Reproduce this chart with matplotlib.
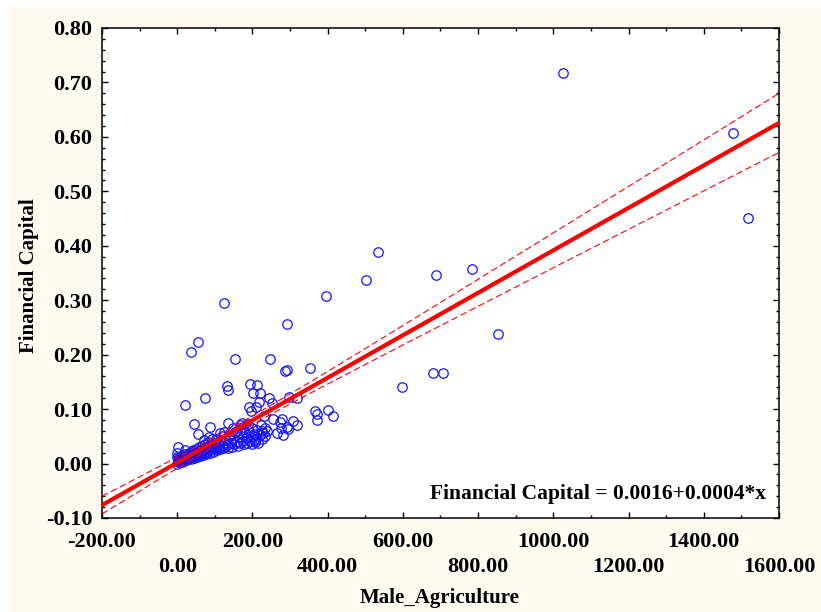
import matplotlib.pyplot as plt
import numpy as np
from matplotlib.patches import Rectangle
from matplotlib.ticker import MultipleLocator

# points (Male_Agriculture, Financial Capital)
male_agriculture = [
    1026, 1478, 1518, 689, 784, 534, 503, 396, 125, 292, 56, 37, 154, 247, 354, 287, 292, 598, 854, 681, 707,
    21, 45, 74, 88, 56, 72, 133, 136, 136, 194, 213, 202, 221, 191, 218, 245, 253, 210, 197, 231, 255, 279,
    274, 292, 277, 266, 282, 295, 308, 319, 298, 319, 367, 372, 372, 402, 415, 173, 176, 234, 229, 234, 213,
    186, 207, 3, 0, 21, 43, 85, 114, 125, 149, 160, 168, 180, 188, 200, 205, 222, 226, 240,
    0, 1, 2, 3, 0, 4, 5, 6, 8, 9, 10, 12, 13, 14, 15,
    17, 18, 20, 21, 22, 24, 25, 27, 28, 30, 31, 33, 34, 36, 37, 38, 40,
    42, 44, 45, 47, 49, 50, 52, 54, 55, 57, 58, 60, 62, 64, 65, 67, 69, 70, 72, 74, 75, 77, 78,
    80, 82, 84, 86, 88, 90, 92, 94, 96, 98, 100, 102, 104, 106, 108, 110, 113, 115, 118, 120, 122, 125, 127,
    130, 133, 136, 139, 142, 145, 148, 151, 155, 158, 162, 165, 168, 172, 175, 178, 182, 186, 190, 194, 198,
    202, 206, 210, 215, 220, 226,
]
financial_capital = [
    0.717, 0.607, 0.451, 0.346, 0.358, 0.388, 0.337, 0.308, 0.295, 0.256, 0.223, 0.205, 0.192, 0.192, 0.175,
    0.170, 0.172, 0.141, 0.238, 0.166, 0.166,
    0.107, 0.073, 0.120, 0.067, 0.054, 0.043, 0.142, 0.135, 0.074, 0.146, 0.144, 0.130, 0.130, 0.104, 0.113,
    0.120, 0.111, 0.104, 0.096, 0.087, 0.082, 0.082, 0.076, 0.067, 0.065, 0.056, 0.052, 0.063, 0.078, 0.071,
    0.122, 0.120, 0.096, 0.091, 0.080, 0.098, 0.087, 0.074, 0.067, 0.065, 0.056, 0.051, 0.062, 0.049, 0.043,
    0.030, 0.019, 0.025, 0.025, 0.049, 0.056, 0.058, 0.065, 0.060, 0.070, 0.058, 0.072, 0.066, 0.055, 0.070,
    0.060, 0.060,
    0.000, 0.003, 0.006, 0.010, 0.012, 0.002, 0.005, 0.008, 0.004, 0.011, 0.007, 0.003, 0.009, 0.014, 0.006,
    0.010, 0.004, 0.008, 0.013, 0.018, 0.006, 0.011, 0.015, 0.008, 0.012, 0.020, 0.010, 0.016, 0.009, 0.014,
    0.022, 0.012,
    0.017, 0.011, 0.021, 0.014, 0.026, 0.018, 0.012, 0.022, 0.016, 0.030, 0.019, 0.014, 0.024, 0.018, 0.033,
    0.021, 0.016, 0.027, 0.020, 0.036, 0.024, 0.018, 0.030,
    0.022, 0.040, 0.026, 0.020, 0.033, 0.024, 0.045, 0.028, 0.021, 0.037, 0.026, 0.031, 0.046, 0.024, 0.035,
    0.029, 0.041, 0.026, 0.033, 0.050, 0.028, 0.038, 0.030,
    0.044, 0.034, 0.029, 0.052, 0.038, 0.031, 0.045, 0.035, 0.058, 0.040, 0.033, 0.048, 0.037, 0.056, 0.041,
    0.035, 0.047, 0.038, 0.060, 0.042, 0.036, 0.050, 0.040, 0.045, 0.038, 0.052, 0.046,
]

# fitted line as drawn (label rounds the slope to 0.0004)
intercept = 0.0016
slope = 0.00039
x_ticks = [-200, 0, 200, 400, 600, 800, 1000, 1200, 1400, 1600]
y_ticks = [-0.10, 0.00, 0.10, 0.20, 0.30, 0.40, 0.50, 0.60, 0.70, 0.80]

plt.rcParams['font.family'] = ['Liberation Serif', 'DejaVu Serif']
plt.rcParams['font.weight'] = 'bold'

fig = plt.figure(figsize=(8.21, 6.12), dpi=100)
fig.patch.set_facecolor('white')
fig.patches.append(Rectangle((9 / 821, 0), 1, 1 - 7 / 612, transform=fig.transFigure,
                             facecolor='#fefaf0', edgecolor='none', zorder=-1))
ax = fig.add_axes([0.1242, 0.1536, 0.8246, 0.8007])

x = np.array(male_agriculture, dtype=float)
y = np.array(financial_capital)
n = len(x)
resid = y - (intercept + slope * x)
s = np.sqrt(np.sum(resid ** 2) / (n - 2))
xm = x.mean()
sxx = np.sum((x - xm) ** 2)
xf = np.linspace(-200, 1600, 300)
yf = intercept + slope * xf
hw = 1.97 * s * np.sqrt(1 / n + (xf - xm) ** 2 / sxx)

ax.plot(x, y, 'o', ms=6.8, mfc='none', mec='#1414ff', mew=0.9, zorder=2)
ax.plot(xf, yf, color='#ff0000', lw=3, zorder=3)
ax.plot(xf, yf + hw, color='#ff0000', lw=0.8, ls=(0, (6, 3)), zorder=3)
ax.plot(xf, yf - hw, color='#ff0000', lw=0.8, ls=(0, (6, 3)), zorder=3)

ax.set_xlim(-200, 1600)
ax.set_ylim(-0.10, 0.80)
ax.set_xticks(x_ticks)
ax.set_xticklabels([f'{v:.2f}' for v in x_ticks])
ax.set_yticks(y_ticks)
ax.set_yticklabels([f'{v:.2f}' for v in y_ticks])
ax.xaxis.set_minor_locator(MultipleLocator(100))
ax.yaxis.set_minor_locator(MultipleLocator(0.02))
ax.tick_params(which='both', direction='in', top=True, right=True, width=1, labelsize=16)
ax.tick_params(which='major', length=4.5)
ax.tick_params(which='minor', length=2.5)
ax.tick_params(axis='y', pad=7)
ax.tick_params(axis='x', pad=10)
for i, t in enumerate(ax.xaxis.get_major_ticks()):
    if i % 2 == 1:
        t.set_pad(28)
for sp in ax.spines.values():
    sp.set_linewidth(1.1)

ax.text(0.981, 0.039, 'Financial Capital = 0.0016+0.0004*x', transform=ax.transAxes,
        ha='right', va='baseline', fontsize=15.5, fontweight='bold')
fig.text(440 / 821, 1 - 603 / 612, 'Male_Agriculture', ha='center', va='baseline',
         fontsize=15, fontweight='bold')
fig.text(29 / 821, 1 - 276 / 612, 'Financial Capital', ha='center', va='center', rotation=90,
         fontsize=15, fontweight='bold')

fig.savefig('out.png', dpi=100)
